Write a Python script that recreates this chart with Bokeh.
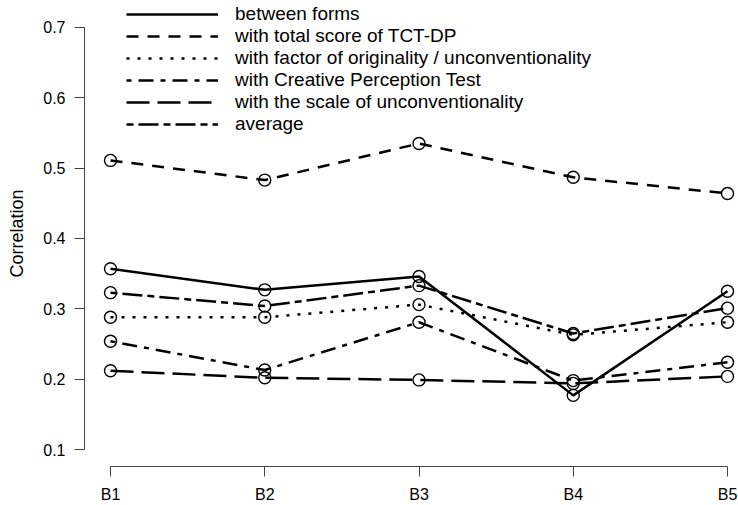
from bokeh.plotting import figure
from bokeh.models import FixedTicker, PrintfTickFormatter, Legend, LegendItem, Range1d
from bokeh.embed import file_html
from bokeh.resources import INLINE

# ---- data ----
blocks = ["B1", "B2", "B3", "B4", "B5"]
x_pos = [1, 2, 3, 4, 5]
between_forms = [0.357, 0.327, 0.346, 0.177, 0.325]
total_tct_dp = [0.511, 0.483, 0.535, 0.487, 0.464]
factor_originality = [0.288, 0.288, 0.306, 0.263, 0.281]
creative_perception = [0.254, 0.213, 0.281, 0.198, 0.224]
scale_unconventionality = [0.212, 0.202, 0.199, 0.194, 0.204]
average = [0.323, 0.304, 0.333, 0.265, 0.301]
y_ticks = [0.1, 0.2, 0.3, 0.4, 0.5, 0.6, 0.7]

series_labels = [
    "between forms",
    "with total score of TCT-DP",
    "with factor of originality / unconventionality",
    "with Creative Perception Test",
    "with the scale of unconventionality",
    "average",
]
series_values = [between_forms, total_tct_dp, factor_originality,
                 creative_perception, scale_unconventionality, average]
dashes = ["solid", "12 9", "3 8", "5 7 15 7", "23 8", "7 5 20 5"]

FONT = "Liberation Sans"

p = figure(width=738, height=505, output_backend="svg", toolbar_location=None,
           x_range=Range1d(0.8314, 5.0713), y_range=Range1d(0.0759, 0.7383),
           min_border_left=84, min_border_right=0, min_border_top=0,
           min_border_bottom=38)
p.outline_line_color = None
p.grid.visible = False
p.background_fill_color = "white"

items = []
for lab, vals, dash in zip(series_labels, series_values, dashes):
    r = p.line(x_pos, vals, line_color="black", line_width=2.5, line_dash=dash)
    p.scatter(x_pos, vals, marker="circle", size=12, fill_color=None,
              line_color="black", line_width=1.4)
    items.append(LegendItem(label=lab, renderers=[r]))

legend = Legend(items=items, location=(42, 331), padding=0, spacing=0, margin=0,
                glyph_width=92, glyph_height=18, label_height=18,
                label_standoff=17, label_text_font=FONT,
                label_text_font_size="19px",
                label_text_color="black",
                background_fill_alpha=0, border_line_alpha=0)
p.add_layout(legend)

# x axis
xa = p.xaxis[0]
xa.axis_label = None
xa.ticker = FixedTicker(ticks=x_pos)
xa.major_label_overrides = {x: b for x, b in zip(x_pos, blocks)}
xa.bounds = (x_pos[0], x_pos[-1])
xa.minor_tick_line_color = None
xa.major_tick_in = 0
xa.major_tick_out = 10
xa.major_label_standoff = 9
xa.major_label_text_font = FONT
xa.major_label_text_font_size = "16px"
xa.major_label_text_color = "black"
xa.axis_line_color = "#444444"
xa.major_tick_line_color = "#444444"

# y axis
ya = p.yaxis[0]
ya.ticker = FixedTicker(ticks=y_ticks)
ya.formatter = PrintfTickFormatter(format="%.1f")
ya.bounds = (y_ticks[0], y_ticks[-1])
ya.minor_tick_line_color = None
ya.major_tick_in = 0
ya.major_tick_out = 10
ya.major_label_standoff = 9
ya.major_label_orientation = "horizontal"
ya.major_label_text_font = FONT
ya.major_label_text_font_size = "16px"
ya.major_label_text_color = "black"
ya.axis_line_color = "#444444"
ya.major_tick_line_color = "#444444"
ya.axis_label = "Correlation"
ya.axis_label_text_font = FONT
ya.axis_label_text_font_size = "18px"
ya.axis_label_text_font_style = "normal"
ya.axis_label_text_color = "black"
ya.axis_label_standoff = 13

open("out.html", "w").write(file_html(p, INLINE))
